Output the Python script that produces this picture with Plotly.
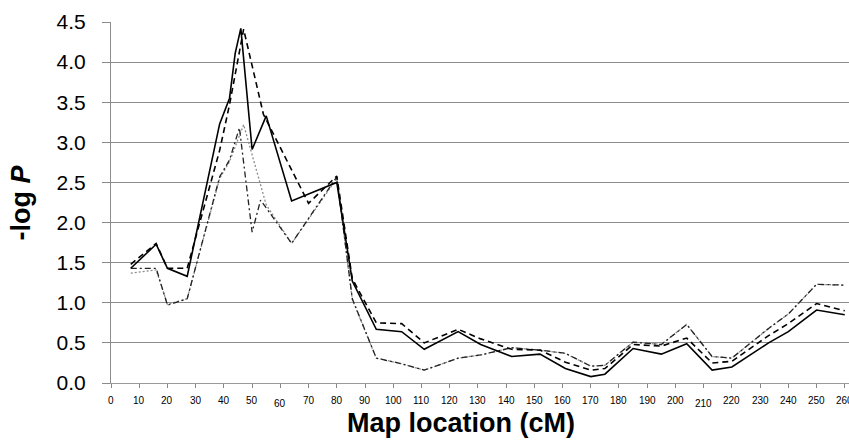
import plotly.graph_objects as go

# Series 1: solid
x_solid = [7, 16, 20, 27, 38.5, 42, 44, 46, 50, 55, 64, 80, 85.5, 94, 103, 111, 123, 131, 142, 152,
           161, 170, 175, 185, 195, 204, 213, 220, 233, 240, 250, 260]
y_solid = [1.43, 1.73, 1.43, 1.33, 3.23, 3.55, 4.11, 4.42, 2.91, 3.33, 2.27, 2.50, 1.27, 0.67, 0.64, 0.42,
           0.64, 0.48, 0.33, 0.36, 0.18, 0.08, 0.11, 0.43, 0.36, 0.49, 0.16, 0.20, 0.50, 0.64, 0.91, 0.85]

# Series 2: dashed
x_dash = [7, 16, 20, 27, 38.5, 42, 47, 54, 70, 80, 85.5, 94, 103, 111, 123, 131, 142, 152,
          161, 170, 175, 185, 195, 204, 213, 220, 233, 240, 250, 260]
y_dash = [1.48, 1.74, 1.43, 1.43, 2.90, 3.47, 4.41, 3.35, 2.24, 2.58, 1.30, 0.75, 0.74, 0.50, 0.67, 0.55,
          0.42, 0.41, 0.26, 0.16, 0.18, 0.48, 0.46, 0.56, 0.25, 0.27, 0.59, 0.74, 0.99, 0.90]

# Series 3: dash-dot
x_dashdot = [7, 16, 20, 27, 38.5, 42, 45.5, 50, 53, 64, 80, 85.5, 94, 103, 111, 123, 131, 142, 152,
             161, 170, 175, 185, 195, 204, 213, 220, 233, 240, 250, 260]
y_dashdot = [1.43, 1.43, 0.97, 1.05, 2.57, 2.78, 3.18, 1.88, 2.28, 1.74, 2.57, 1.05, 0.31, 0.24, 0.16, 0.31,
             0.35, 0.44, 0.41, 0.37, 0.21, 0.22, 0.51, 0.48, 0.73, 0.33, 0.31, 0.68, 0.86, 1.23, 1.22]

# Series 4: dotted (gray)
x_dot = [7, 16, 20, 27, 38.5, 42, 47, 50, 55, 64, 80, 85.5, 94, 103, 111, 123, 131, 142, 152,
         161, 170, 175, 185, 195, 204, 213, 220, 233, 240, 250, 260]
y_dot = [1.37, 1.41, 0.98, 1.05, 2.55, 2.76, 3.22, 2.85, 2.22, 1.74, 2.55, 1.04, 0.31, 0.24, 0.16, 0.31,
         0.35, 0.44, 0.41, 0.37, 0.21, 0.22, 0.51, 0.48, 0.73, 0.33, 0.31, 0.68, 0.86, 1.23, 1.22]

x_ticks = list(range(0, 261, 10))
x_tick_labels = [str(v) for v in x_ticks]
lowered_labels = ["60", "210"]
y_ticks = [0, 0.5, 1.0, 1.5, 2.0, 2.5, 3.0, 3.5, 4.0, 4.5]
y_tick_labels = ["0.0", "0.5", "1.0", "1.5", "2.0", "2.5", "3.0", "3.5", "4.0", "4.5"]

fig = go.Figure()
fig.add_trace(go.Scatter(x=x_dot, y=y_dot, mode="lines",
                         line=dict(color="#8a8a8a", width=1.3, dash="2px,2px"), showlegend=False))
fig.add_trace(go.Scatter(x=x_dashdot, y=y_dashdot, mode="lines",
                         line=dict(color="#222222", width=1.3, dash="6px,3px,2px,3px"), showlegend=False))
fig.add_trace(go.Scatter(x=x_dash, y=y_dash, mode="lines",
                         line=dict(color="black", width=1.6, dash="6px,4px"), showlegend=False))
fig.add_trace(go.Scatter(x=x_solid, y=y_solid, mode="lines",
                         line=dict(color="black", width=1.6), showlegend=False))

annotations = []
for v, lab in zip(x_ticks, x_tick_labels):
    shift = -20 if lab in lowered_labels else -17
    annotations.append(dict(x=v, y=0, xref="x", yref="paper", text=lab, showarrow=False,
                            xanchor="center", yanchor="middle", yshift=shift,
                            font=dict(family="Liberation Sans Narrow, Liberation Sans, Arial", size=10,
                                      color="black")))
annotations.append(dict(x=0.5, y=0, xref="paper", yref="paper", text="<b>Map location (cM)</b>",
                        showarrow=False, xanchor="center", yanchor="middle", yshift=-40, xshift=-19,
                        font=dict(family="Liberation Sans, Arial", size=27, color="black")))
annotations.append(dict(x=0, y=0.5, xref="paper", yref="paper", text="<b>-log <i>P</i></b>",
                        showarrow=False, xanchor="center", yanchor="middle", xshift=-91, textangle=-90,
                        font=dict(family="Liberation Sans, Arial", size=27, color="black")))

fig.update_layout(
    width=849, height=445,
    margin=dict(l=111, r=0, t=22, b=62),
    paper_bgcolor="white", plot_bgcolor="white",
    annotations=annotations,
    xaxis=dict(range=[0, 261.5], tickvals=x_ticks, showticklabels=False, showgrid=False,
               ticks="outside", ticklen=4, tickcolor="#888888", showline=True, linecolor="#999999",
               linewidth=1, zeroline=False),
    yaxis=dict(range=[0, 4.5], tickvals=y_ticks, ticktext=y_tick_labels, showgrid=True,
               gridcolor="#8c8c8c", gridwidth=1, ticks="outside", ticklen=8, tickcolor="#8c8c8c",
               showline=True, linecolor="#8c8c8c", linewidth=1, zeroline=False,
               ticklabelstandoff=12,
               tickfont=dict(family="Liberation Sans, Arial", size=21, color="black")),
)

fig.write_html("out.html")
